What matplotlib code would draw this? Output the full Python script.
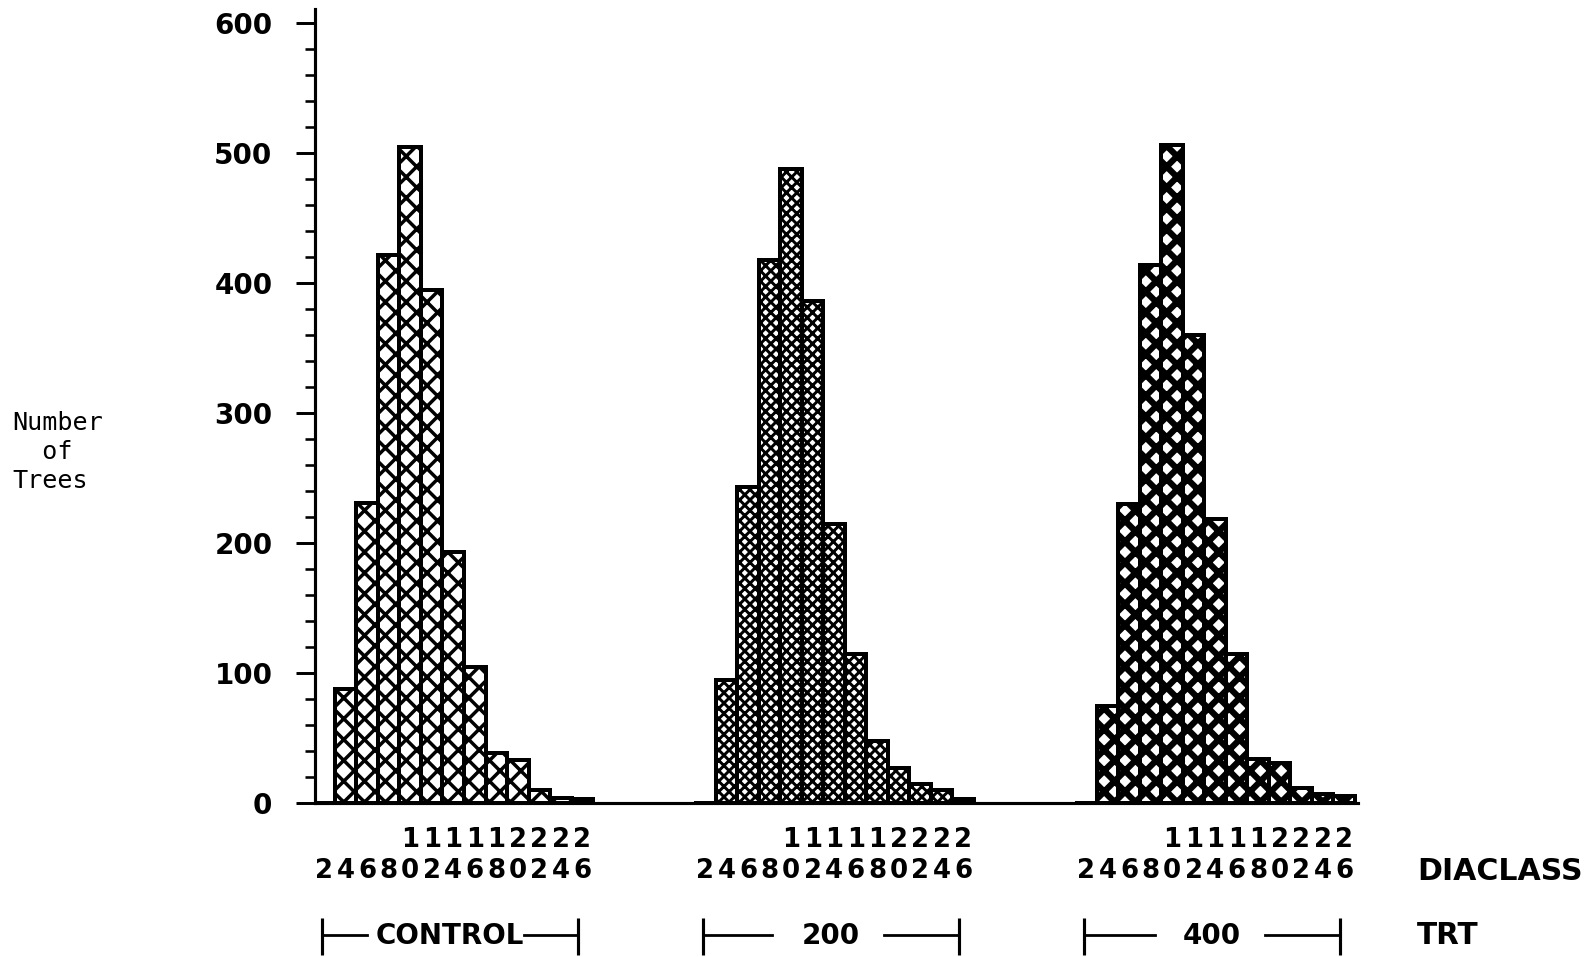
import matplotlib
matplotlib.use("Agg")
import matplotlib.pyplot as plt
from matplotlib.ticker import MultipleLocator

# ---------------- data ----------------
diaclass = [2, 4, 6, 8, 10, 12, 14, 16, 18, 20, 22, 24, 26]
treatments = ["CONTROL", "200", "400"]
control = [0, 88, 231, 422, 505, 395, 193, 105, 39, 33, 10, 4, 3]
trt200 = [0, 95, 243, 418, 488, 386, 215, 115, 48, 27, 15, 10, 3]
trt400 = [0, 75, 230, 414, 506, 360, 219, 115, 34, 31, 12, 7, 6]
yticks = [0, 100, 200, 300, 400, 500, 600]

# ---------------- style ----------------
W, H, DPI = 1595, 957, 125
group_stride = 17.72
hatches = ["xx", "xxxx", "xx"]
hatch_lws = [2.0, 1.7, 3.6]
# dash ranges (in bar units, relative to group start) for the TRT brackets
dash_left = [2.0, 3.1, 3.2]
dash_right = [9.3, 8.3, 8.3]
br_lo, br_hi = -0.10, 11.80
BOLD = "DejaVu Sans"

fig = plt.figure(figsize=(W / DPI, H / DPI), dpi=DPI)
y0_px, ytop_px = 803.3, 9.0
ax_left_px, ax_right_px = 315.0, 1358.0
ax = fig.add_axes([ax_left_px / W, (H - y0_px) / H,
                   (ax_right_px - ax_left_px) / W, (y0_px - ytop_px) / H])

def yfrac(py):
    return (y0_px - py) / (y0_px - ytop_px)

series = [control, trt200, trt400]
tr = ax.get_xaxis_transform()
for g, vals in enumerate(series):
    plt.rcParams["hatch.linewidth"] = hatch_lws[g]
    xs = [g * group_stride + i for i in range(len(diaclass))]
    bars = ax.bar(xs, vals, width=1.0, color="white", edgecolor="black",
                  linewidth=2.3, hatch=hatches[g], zorder=2)
    for p in bars:
        if hasattr(p, "set_hatch_linewidth"):
            p.set_hatch_linewidth(hatch_lws[g])
    # stacked diameter class labels
    for x, d in zip(xs, diaclass):
        s = str(d)
        if len(s) == 2:
            ax.text(x, yfrac(840), s[0], transform=tr,
                    ha="center", va="center", fontsize=15, fontweight="bold",
                    family=BOLD, clip_on=False)
        ax.text(x, yfrac(871), s[-1], transform=tr,
                ha="center", va="center", fontsize=15, fontweight="bold",
                family=BOLD, clip_on=False)
    # treatment bracket
    g0 = g * group_stride
    yb = yfrac(935)
    for xe in (g0 + br_lo, g0 + br_hi):
        ax.plot([xe, xe], [yfrac(918), yfrac(955)], color="black", lw=1.8,
                transform=tr, clip_on=False, solid_capstyle="butt")
    ax.plot([g0 + br_lo, g0 + dash_left[g]], [yb, yb], color="black", lw=1.6,
            transform=tr, clip_on=False)
    ax.plot([g0 + dash_right[g], g0 + br_hi], [yb, yb], color="black", lw=1.6,
            transform=tr, clip_on=False)
    ax.text(g0 + (br_lo + br_hi) / 2, yfrac(936), treatments[g], transform=tr,
            ha="center", va="center", fontsize=16, fontweight="bold",
            family=BOLD, clip_on=False)

ax.set_xlim(-0.43, 48.08)
ax.set_ylim(0, 611)
ax.set_yticks(yticks)
ax.set_yticklabels([str(v) for v in yticks], fontsize=16, fontweight="bold",
                   family=BOLD)
ax.yaxis.set_minor_locator(MultipleLocator(20))
ax.tick_params(axis="y", which="major", direction="out", length=11, width=1.7,
               pad=13.5)
ax.tick_params(axis="y", which="minor", direction="out", length=5.8, width=1.5)
ax.set_xticks([])
for side in ("top", "right"):
    ax.spines[side].set_visible(False)
ax.spines["left"].set_linewidth(1.8)
ax.spines["bottom"].set_linewidth(1.8)

fig.text(1417 / W, 1 - 871 / H, "DIACLASS", ha="left", va="center",
         fontsize=17.3, fontweight="bold", family=BOLD)
fig.text(1417 / W, 1 - 936 / H, "TRT", ha="left", va="center",
         fontsize=17, fontweight="bold", family=BOLD)
fig.text(12 / W, 1 - 452 / H, "Number\n  of\nTrees", ha="left", va="center",
         fontsize=14.5, family="DejaVu Sans Mono", linespacing=1.25)

fig.savefig("out.png", dpi=DPI)
